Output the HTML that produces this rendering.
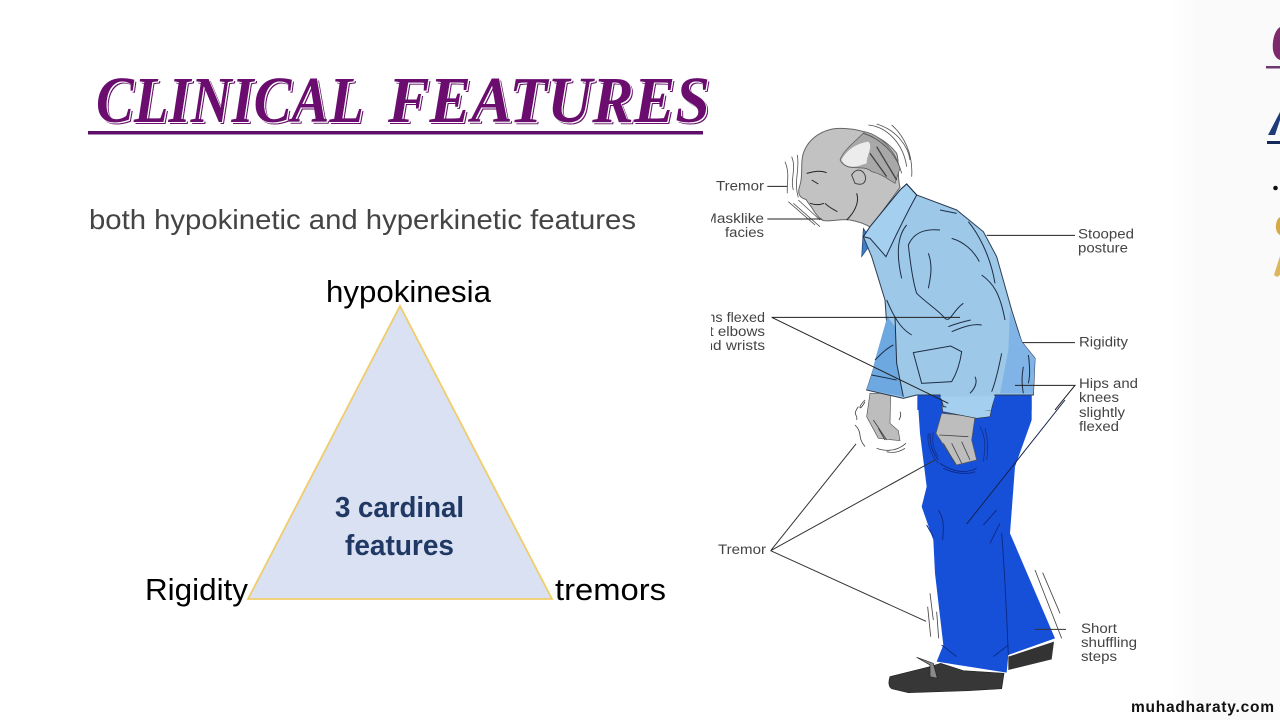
<!DOCTYPE html>
<html><head><meta charset="utf-8"><title>Clinical Features</title>
<style>html,body{margin:0;padding:0;background:#fff;width:1280px;height:720px;overflow:hidden}svg{display:block}</style>
</head><body>
<svg xmlns="http://www.w3.org/2000/svg" width="1280" height="720" viewBox="0 0 1280 720">
<defs>
<linearGradient id="pg" x1="0" x2="1" y1="0" y2="0"><stop offset="0" stop-color="#fff"/><stop offset="1" stop-color="#fafafb"/></linearGradient>
<clipPath id="lc"><rect x="711" y="0" width="300" height="720"/></clipPath>
<filter id="tf" x="-5%" y="-20%" width="110%" height="140%">
<feFlood flood-color="#fff" result="w"/>
<feOffset in="SourceAlpha" dx="1" dy="1" result="a1"/>
<feComposite in="w" in2="a1" operator="in" result="white"/>
<feFlood flood-color="#6a0f6e" result="p"/>
<feOffset in="SourceAlpha" dx="2.200" dy="2" result="a2"/>
<feComposite in="p" in2="a2" operator="in" result="purple"/>
<feMerge><feMergeNode in="purple"/><feMergeNode in="white"/><feMergeNode in="SourceGraphic"/></feMerge>
</filter>
</defs>
<rect width="1280" height="720" fill="#fff"/>
<rect x="1170" y="0" width="30" height="720" fill="url(#pg)"/>
<rect x="1200" y="0" width="80" height="720" fill="#fafafb"/>

<!-- neighbouring slide edge -->
<path d="M1280 27C1274 31 1272 42 1273 50C1274 56 1277 59 1280 60Z" fill="#7c2a6c"/>
<rect x="1266" y="66" width="14" height="2.500" fill="#6c3a70"/>
<path d="M1268 135L1280 112V120L1275 135Z" fill="#1f3a78"/>
<rect x="1267" y="141" width="13" height="3" fill="#14285c"/>
<circle cx="1275.500" cy="188" r="2.300" fill="#111"/>
<path d="M1280 217C1275 220 1274 232 1280 235Z" fill="#d4aa45"/>
<path d="M1274 275L1280 256V275L1277 277Z" fill="#dcb65c"/>

<!-- title -->
<g filter="url(#tf)" font-family="'Liberation Serif',serif" font-weight="bold" font-style="italic" font-size="66" fill="#6a0f6e">
<text x="96" y="122" textLength="268" lengthAdjust="spacingAndGlyphs">CLINICAL</text>
<text x="388" y="122" textLength="322" lengthAdjust="spacingAndGlyphs">FEATURES</text>
</g>
<rect x="88" y="131" width="615" height="3.500" fill="#5f0f69"/>

<text x="89" y="229" font-family="'Liberation Sans',sans-serif" font-size="28" fill="#444" textLength="547" lengthAdjust="spacingAndGlyphs">both hypokinetic and hyperkinetic features</text>

<!-- triangle -->
<polygon points="400,306 248,599 552,599" fill="#d9e1f2" stroke="#f0cd6a" stroke-width="1.800"/>
<text x="326" y="302" font-family="'Liberation Sans',sans-serif" font-size="31" fill="#000" textLength="165" lengthAdjust="spacingAndGlyphs">hypokinesia</text>
<text x="145" y="600" font-family="'Liberation Sans',sans-serif" font-size="31" fill="#000" textLength="103" lengthAdjust="spacingAndGlyphs">Rigidity</text>
<text x="555" y="600" font-family="'Liberation Sans',sans-serif" font-size="31" fill="#000" textLength="111" lengthAdjust="spacingAndGlyphs">tremors</text>
<text x="335" y="517" font-family="'Liberation Sans',sans-serif" font-weight="bold" font-size="29" fill="#203864" textLength="129" lengthAdjust="spacingAndGlyphs">3 cardinal</text>
<text x="345" y="555" font-family="'Liberation Sans',sans-serif" font-weight="bold" font-size="29" fill="#203864" textLength="109" lengthAdjust="spacingAndGlyphs">features</text>

<!-- lower figure, zoom-2 coordinates -->
<g transform="translate(700,400) scale(.33333)">
<path d="M652-20L660 100L680 260L665 320L700 420L705 520L730 735L710 785L920 818L925 765L1065 715L930 400L945 200L995 60L995-20Z" fill="#1750d8"/>
<path d="M925 770L925 810L1055 778L1062 725Z" fill="#333"/>
<path d="M570 830C565 845 565 860 575 866L625 878L805 872L905 866L912 820L790 812L722 790L690 800Z" fill="#373737" stroke="#222" stroke-width="2"/>
<path d="M650 772L700 790L712 835L690 830L690 795Z" fill="#8a8a8a" stroke="#222" stroke-width="2"/>
<g fill="none" stroke="#0d2b8a" stroke-width="3">
<path d="M715 330C735 360 730 390 728 420M680 375L700 410M925 765C920 650 915 520 905 400M850 375L890 330M870 430L900 370M880 770L925 735M725 735L770 770M690 100C690 140 700 160 715 180M720 190C750 210 790 225 830 205M730 205C760 220 800 225 825 215"/>
</g>
<path d="M800 372L1095 0" fill="none" stroke="#15224f" stroke-width="3"/>
<path d="M510-20L500 50L535 115L600 122L595 92L570 70L572-20Z" fill="#bdbdbd" stroke="#555" stroke-width="2"/>
<path d="M725 40L708 100L770 195L830 180L815 120L825 50Z" fill="#bdbdbd" stroke="#555" stroke-width="2"/>
<path d="M722-20L728 35L830 55L870 50L885-20Z" fill="#a4cfee" stroke="#333" stroke-width="2"/>
<g fill="none" stroke="#444" stroke-width="2.500">
<path d="M520 60L560 120M535 85L555 120M718 105L805 110M755 130L785 190M730 130L765 190M785 125L810 180"/>
<path d="M495 0C470 25 480 35 495 5M475 20C455 50 475 40 470 60M465 75C490 100 470 110 495 140M530 145C560 155 590 155 618 130M560 155C580 160 600 155 615 145M600 35C605 45 600 55 597 60"/>
<path d="M690 580L700 660M683 620L692 710M710 635L716 715"/>
<path d="M1005 510L1085 715M1028 518L1080 640"/>
</g>
<g fill="none" stroke="#12308a" stroke-width="2.500"><path d="M685 100C680 130 695 170 715 190M700 95C695 125 700 150 715 170M840 80C860 115 855 150 850 185M855 85C865 120 865 150 860 180"/></g>
<g fill="none" stroke="#333" stroke-width="3">
<path d="M468 132L212 452L705 180M212 452L678 664"/>
<path d="M1005 688H1098"/>
</g>
</g>

<!-- upper figure, zoom-1 coordinates -->
<g transform="translate(700,110) scale(.33333)">
<path d="M310 130C300 160 310 195 300 225C290 250 300 265 318 268C325 280 330 285 335 292C345 310 360 330 372 332C400 335 430 325 450 330C480 335 500 345 512 352L600 232C590 195 600 160 590 130C560 90 500 55 420 55C370 55 325 85 310 130Z" fill="#c2c2c2" stroke="#666" stroke-width="3"/>
<path d="M420 150C430 120 470 90 495 65C540 75 585 120 600 175L585 220C560 205 540 190 515 185C490 160 440 190 420 150Z" fill="#a8a8a8" stroke="#555" stroke-width="2"/>
<path d="M424 150C440 120 470 100 505 95C520 110 500 135 500 160C480 165 445 185 424 150Z" fill="#ececec"/>
<path d="M530 110L590 210M510 130L560 200" fill="none" stroke="#444" stroke-width="4"/>
<path d="M455 195C470 170 495 180 497 205C495 225 480 225 465 220Z" fill="#c2c2c2" stroke="#444" stroke-width="3"/>
<path d="M490 355L485 440L517 395Z" fill="#3f7fc9" stroke="#1f3d70" stroke-width="2"/>
<path d="M620 222L650 255L770 300L850 365L890 440L935 600L965 695L1005 745L1000 855L885 855L870 900L730 890L720 855L650 855L610 865L500 840L515 795L560 640L555 570L515 440L490 380L600 240Z" fill="#9dc8e8" stroke="#2b3d55" stroke-width="3"/>
<path d="M562 620L585 650L590 760L610 860L500 838L515 795L525 750Z" fill="#6da8e0"/>
<path d="M930 600L965 695L1005 745L1000 850L900 850L925 720Z" fill="#80b4e6"/>
<path d="M652 858H722V900H652Z M885 858H995V900H880Z" fill="#1750d8"/>
<path d="M720 860L885 858L872 900H745Z" fill="#a4cfee"/>
<path d="M490 380L510 350L600 240L620 222L650 255C620 310 590 370 558 440L510 385Z" fill="#a4cfee" stroke="#1d2d44" stroke-width="3"/>
<g fill="none" stroke="#1d2d44" stroke-width="3">
<path d="M720 360C670 355 640 370 625 405C630 450 640 520 650 550C680 580 715 600 735 625C750 640 760 600 790 580"/>
<path d="M755 385C790 395 820 420 838 455M805 335C830 365 870 430 885 520M845 495C880 520 900 550 915 630"/>
<path d="M685 430C700 470 690 510 685 535M620 345C590 380 590 440 605 505M560 570C590 640 610 660 635 675"/>
<path d="M755 665C790 650 820 640 845 645M745 650C770 640 790 635 812 630M640 728L752 708L785 725C780 760 770 790 755 815L665 820Z"/>
<path d="M585 620L590 760L610 860M525 750C545 730 560 715 580 705M515 795L590 810M720 300L770 310"/>
<path d="M905 730C895 780 885 820 875 845M970 770C965 800 965 820 970 850M985 735C990 770 990 800 985 820M825 800C835 820 820 840 810 850"/>
</g>
<g fill="none" stroke="#555" stroke-width="2.500">
<path d="M255 155C270 190 260 215 262 250M275 140C290 175 270 210 280 240M292 135C300 180 280 215 295 262M265 275L345 345M280 280L360 350M295 270L360 330"/>
<path d="M505 45C560 50 610 100 620 170M530 42C590 60 625 110 630 150M575 45C610 75 640 130 635 200M490 70C540 85 590 130 605 190"/>
</g>
<g fill="none" stroke="#222" stroke-width="3">
<path d="M320 190C340 185 360 180 380 188M335 210L355 222M330 280C345 285 360 285 372 280M375 280C390 295 405 300 412 305M470 250C480 280 460 310 440 330"/>
<path d="M202 229H262M202 327H365M860 376H1125M968 698H1125M945 826H1125L1065 900M215 622H780M215 622L745 880"/>
</g>
</g>

<!-- figure labels -->
<g font-family="'Liberation Sans',sans-serif" font-size="13.500" fill="#444" clip-path="url(#lc)">
<text x="716" y="190.500" textLength="48" lengthAdjust="spacingAndGlyphs">Tremor</text>
<text x="704" y="223" textLength="60" lengthAdjust="spacingAndGlyphs">Masklike</text>
<text x="725" y="237" textLength="39" lengthAdjust="spacingAndGlyphs">facies</text>
<text x="689" y="322" textLength="76" lengthAdjust="spacingAndGlyphs">Arms flexed</text>
<text x="701" y="336" textLength="64" lengthAdjust="spacingAndGlyphs">at elbows</text>
<text x="696" y="350" textLength="69" lengthAdjust="spacingAndGlyphs">and wrists</text>
<text x="718" y="554" textLength="48" lengthAdjust="spacingAndGlyphs">Tremor</text>
</g>
<g font-family="'Liberation Sans',sans-serif" font-size="13.500" fill="#444">
<text x="1078" y="238.500" textLength="56" lengthAdjust="spacingAndGlyphs">Stooped</text>
<text x="1078" y="252.500" textLength="50" lengthAdjust="spacingAndGlyphs">posture</text>
<text x="1079" y="346.500" textLength="49" lengthAdjust="spacingAndGlyphs">Rigidity</text>
<text x="1079" y="388" textLength="59" lengthAdjust="spacingAndGlyphs">Hips and</text>
<text x="1079" y="402" textLength="40" lengthAdjust="spacingAndGlyphs">knees</text>
<text x="1079" y="417" textLength="46" lengthAdjust="spacingAndGlyphs">slightly</text>
<text x="1079" y="431" textLength="40" lengthAdjust="spacingAndGlyphs">flexed</text>
<text x="1081" y="633" textLength="36" lengthAdjust="spacingAndGlyphs">Short</text>
<text x="1081" y="647" textLength="56" lengthAdjust="spacingAndGlyphs">shuffling</text>
<text x="1081" y="661" textLength="36" lengthAdjust="spacingAndGlyphs">steps</text>
</g>

<text x="1131" y="712" font-family="'Liberation Sans',sans-serif" font-weight="bold" font-size="15.500" fill="#111" textLength="143" lengthAdjust="spacing">muhadharaty.com</text>
</svg>
</body></html>
